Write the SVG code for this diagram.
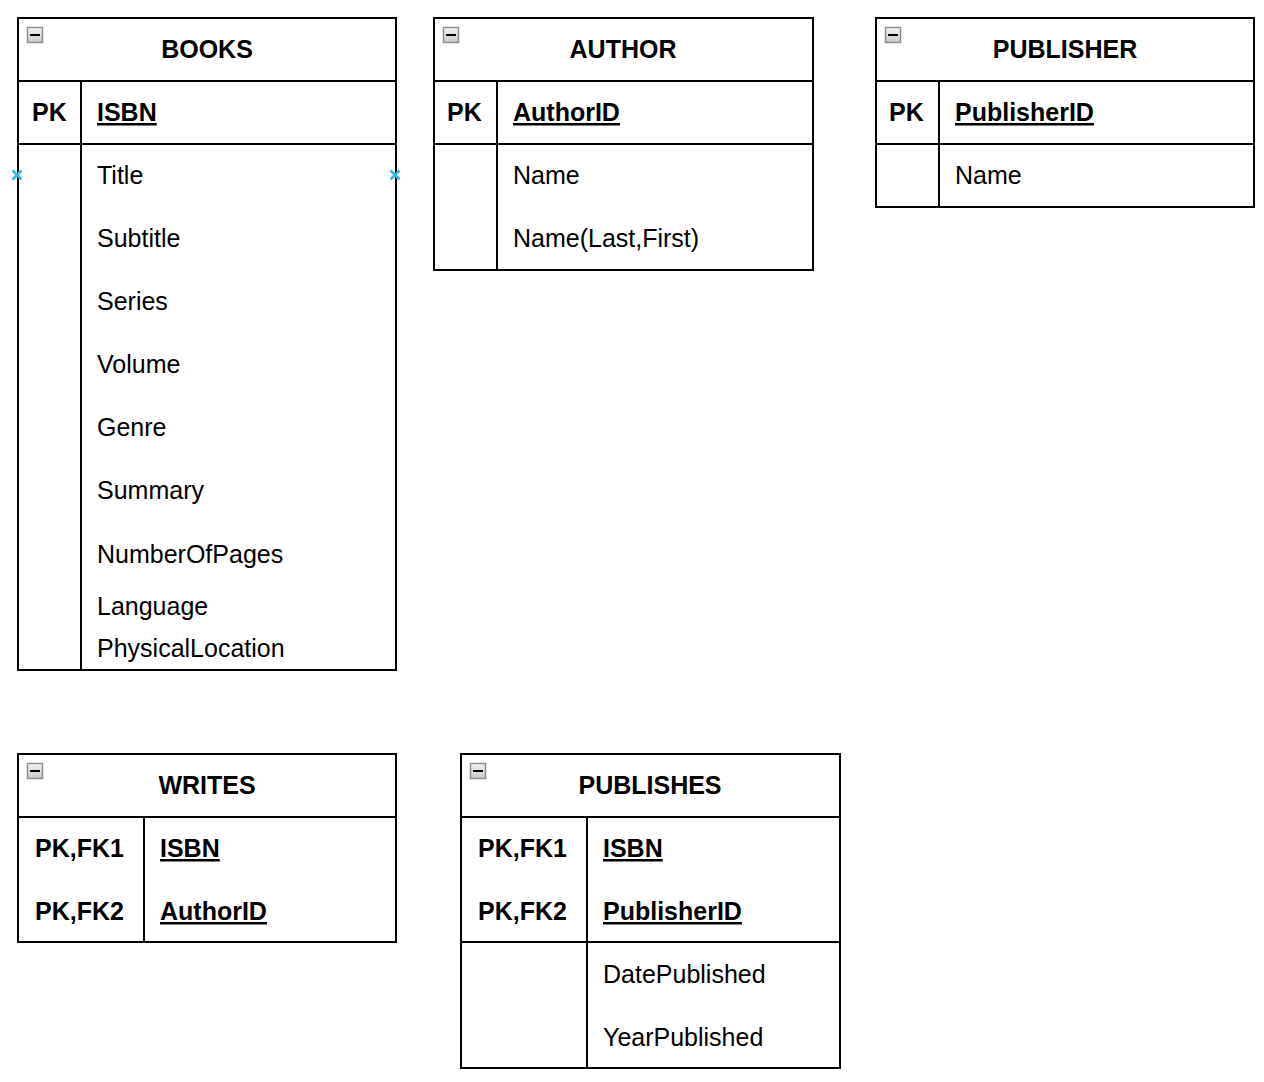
<svg xmlns="http://www.w3.org/2000/svg" width="1264" height="1082" viewBox="0 0 1264 1082">
<defs>
<linearGradient id="ig" x1="0" y1="0" x2="0" y2="1">
<stop offset="0" stop-color="#f4f4f4"/>
<stop offset="1" stop-color="#c8c8c8"/>
</linearGradient>
<g id="icon">
<rect x="0.5" y="0.5" width="15" height="15" fill="url(#ig)" stroke="#8a8f99" stroke-width="1.5"/>
<line x1="3" y1="8" x2="13" y2="8" stroke="#000" stroke-width="2"/>
</g>
</defs>
<style>
.box{fill:#fff;stroke:#000;stroke-width:2}
.ln{stroke:#000;stroke-width:2;fill:none}
text{font-family:"Liberation Sans",Arial,sans-serif;font-size:25px;fill:#000}
.h{font-weight:bold;text-anchor:middle}
.b{font-weight:bold}
.u{font-weight:bold;text-decoration:underline}
.x{stroke:#33b5e5;stroke-width:2.5}
</style>
<rect width="1264" height="1082" fill="#fff"/>

<g id="books">
<rect class="box" x="18" y="18" width="378" height="652"/>
<line class="ln" x1="18" y1="81" x2="396" y2="81"/>
<line class="ln" x1="18" y1="144" x2="396" y2="144"/>
<line class="ln" x1="81" y1="81" x2="81" y2="670"/>
<use href="#icon" x="27" y="27"/>
<text class="h" x="207" y="58">BOOKS</text>
<text class="b" x="32" y="121">PK</text>
<text class="u" x="97" y="121">ISBN</text>
<text x="97" y="184">Title</text>
<text x="97" y="247">Subtitle</text>
<text x="97" y="310">Series</text>
<text x="97" y="373">Volume</text>
<text x="97" y="436">Genre</text>
<text x="97" y="499">Summary</text>
<text x="97" y="563">NumberOfPages</text>
<text x="97" y="615">Language</text>
<text x="97" y="657">PhysicalLocation</text>
<path class="x" d="M12.5,170.5 L21.5,179.5 M21.5,170.5 L12.5,179.5 M390.5,170.5 L399.5,179.5 M399.5,170.5 L390.5,179.5"/>
</g>

<g id="author">
<rect class="box" x="434" y="18" width="379" height="252"/>
<line class="ln" x1="434" y1="81" x2="813" y2="81"/>
<line class="ln" x1="434" y1="144" x2="813" y2="144"/>
<line class="ln" x1="497" y1="81" x2="497" y2="270"/>
<use href="#icon" x="443" y="27"/>
<text class="h" x="623" y="58">AUTHOR</text>
<text class="b" x="447" y="121">PK</text>
<text class="u" x="513" y="121">AuthorID</text>
<text x="513" y="184">Name</text>
<text x="513" y="247">Name(Last,First)</text>
</g>

<g id="publisher">
<rect class="box" x="876" y="18" width="378" height="189"/>
<line class="ln" x1="876" y1="81" x2="1254" y2="81"/>
<line class="ln" x1="876" y1="144" x2="1254" y2="144"/>
<line class="ln" x1="939" y1="81" x2="939" y2="207"/>
<use href="#icon" x="885" y="27"/>
<text class="h" x="1065" y="58">PUBLISHER</text>
<text class="b" x="889" y="121">PK</text>
<text class="u" x="955" y="121">PublisherID</text>
<text x="955" y="184">Name</text>
</g>

<g id="writes">
<rect class="box" x="18" y="754" width="378" height="188"/>
<line class="ln" x1="18" y1="817" x2="396" y2="817"/>
<line class="ln" x1="144" y1="817" x2="144" y2="942"/>
<use href="#icon" x="27" y="763"/>
<text class="h" x="207" y="794">WRITES</text>
<text class="b" x="35" y="857">PK,FK1</text>
<text class="b" x="35" y="920">PK,FK2</text>
<text class="u" x="160" y="857">ISBN</text>
<text class="u" x="160" y="920">AuthorID</text>
</g>

<g id="publishes">
<rect class="box" x="461" y="754" width="379" height="314"/>
<line class="ln" x1="461" y1="817" x2="840" y2="817"/>
<line class="ln" x1="461" y1="942" x2="840" y2="942"/>
<line class="ln" x1="587" y1="817" x2="587" y2="1068"/>
<use href="#icon" x="470" y="763"/>
<text class="h" x="650" y="794">PUBLISHES</text>
<text class="b" x="478" y="857">PK,FK1</text>
<text class="b" x="478" y="920">PK,FK2</text>
<text class="u" x="603" y="857">ISBN</text>
<text class="u" x="603" y="920">PublisherID</text>
<text x="603" y="983">DatePublished</text>
<text x="603" y="1046">YearPublished</text>
</g>

<g id="connectors"></g>
</svg>
